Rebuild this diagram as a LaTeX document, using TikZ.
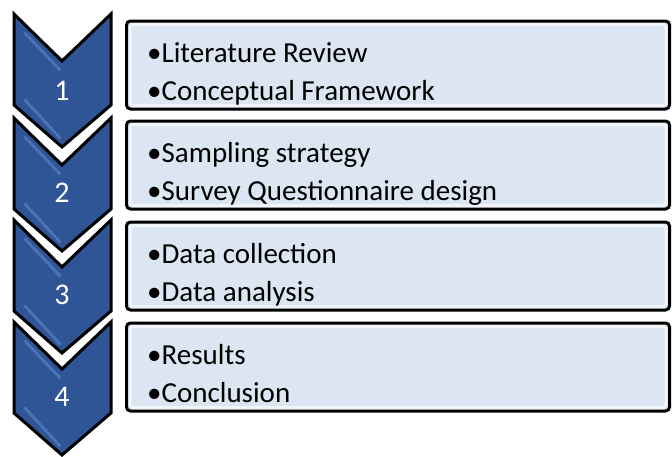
\documentclass[tikz,border=0pt]{standalone}
\usepackage{fontspec}
\setmainfont{Carlito}
\usepackage{tikz}

\begin{document}
\begin{tikzpicture}[x=1pt,y=-1pt]
	
	\definecolor{chevblue}{RGB}{47,85,151}
	\definecolor{shineblue}{RGB}{110,150,215}
	\definecolor{boxblue}{RGB}{220,230,242}
	
	\useasboundingbox (0,0) rectangle (672,456);
	
	\tikzstyle{chevgap} = [draw=white, line width=9pt, line join=miter]
	\tikzstyle{chev} = [fill=chevblue, draw=black, line width=3pt, line join=miter]
	\tikzstyle{shine} = [draw=shineblue, line width=3pt, line cap=round, opacity=0.45]
	
	% chevrons
	\draw[chevgap] (14,14) -- (62,61) -- (111,14) -- (111,105) -- (62,147) -- (14,105) -- cycle;
	\draw[chev] (14,14) -- (62,61) -- (111,14) -- (111,105) -- (62,147) -- (14,105) -- cycle;
	\draw[shine] (25,33) -- (60,70);
	\draw[shine] (25,100) -- (60,138);
	
	\draw[chevgap] (14,118) -- (62,165) -- (111,118) -- (111,209) -- (62,251) -- (14,209) -- cycle;
	\draw[chev] (14,118) -- (62,165) -- (111,118) -- (111,209) -- (62,251) -- (14,209) -- cycle;
	\draw[shine] (25,137) -- (60,174);
	\draw[shine] (25,204) -- (60,242);
	
	\draw[chevgap] (14,220) -- (62,267) -- (111,220) -- (111,311) -- (62,353) -- (14,311) -- cycle;
	\draw[chev] (14,220) -- (62,267) -- (111,220) -- (111,311) -- (62,353) -- (14,311) -- cycle;
	\draw[shine] (25,239) -- (60,276);
	\draw[shine] (25,306) -- (60,344);
	
	\draw[chevgap] (14,322) -- (62,369) -- (111,322) -- (111,413) -- (62,455) -- (14,413) -- cycle;
	\draw[chev] (14,322) -- (62,369) -- (111,322) -- (111,413) -- (62,455) -- (14,413) -- cycle;
	\draw[shine] (25,341) -- (60,378);
	\draw[shine] (25,408) -- (60,446);
	
	\tikzset{num/.style = {text=white, font=\fontsize{30}{36}\selectfont, inner sep=0pt}}
	\node[num] (num1) at (62,91) {1};
	\node[num] (num2) at (62,193) {2};
	\node[num] (num3) at (62,295) {3};
	\node[num] (num4) at (62,397) {4};
	
	% boxes
	\tikzset{box/.style = {shape=rectangle, fill=boxblue, draw=black, line width=3pt, rounded corners=4pt, minimum width=543pt, minimum height=88pt, inner sep=0pt}}
	\tikzset{bevel/.style = {draw=white, line width=3pt, rounded corners=3pt, opacity=0.6}}
	\node[box] (box1) at (398,65) {};
	\node[box] (box2) at (398,165) {};
	\node[box] (box3) at (398,266) {};
	\node[box] (box4) at (398,367) {};
	\draw[bevel] ([shift={(5,5)}]box1.north west) rectangle ([shift={(-5,-5)}]box1.south east);
	\draw[bevel] ([shift={(5,5)}]box2.north west) rectangle ([shift={(-5,-5)}]box2.south east);
	\draw[bevel] ([shift={(5,5)}]box3.north west) rectangle ([shift={(-5,-5)}]box3.south east);
	\draw[bevel] ([shift={(5,5)}]box4.north west) rectangle ([shift={(-5,-5)}]box4.south east);
	
	\tikzset{item/.style = {anchor=base west, font=\fontsize{29}{35}\selectfont, inner sep=0pt}}
	\node[item] (lit) at (147,62) {•Literature Review};
	\node[item] (frame) at (147,100) {•Conceptual Framework};
	\node[item] (samp) at (147,162) {•Sampling strategy};
	\node[item] (survey) at (147,200) {•Survey Questionnaire design};
	\node[item] (collect) at (147,263) {•Data collection};
	\node[item] (analysis) at (147,301) {•Data analysis};
	\node[item] (results) at (147,364) {•Results};
	\node[item] (concl) at (147,402) {•Conclusion};
	
\end{tikzpicture}
\end{document}
